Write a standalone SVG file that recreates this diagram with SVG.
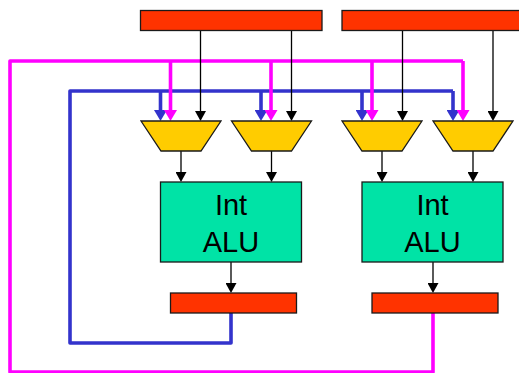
<svg xmlns="http://www.w3.org/2000/svg" width="519" height="373" viewBox="0 0 519 373">
<style>
.reg{fill:#ff3300;stroke:#1a1a1a;stroke-width:1.3}
.mux{fill:#ffcc00;stroke:#1a1a1a;stroke-width:1.3}
.alu{fill:#00e3a6;stroke:#1a1a1a;stroke-width:1.3}
.lbl{font-family:"Liberation Sans",Arial,sans-serif;font-size:29px;fill:#000;text-anchor:middle}
.k{fill:none;stroke:#000;stroke-width:1.3;marker-end:url(#ak)}
.b{fill:none;stroke:#3333cc;stroke-width:3.6;stroke-linejoin:round}
.m{fill:none;stroke:#ff00ff;stroke-width:3.6;stroke-linejoin:round}
.ba{marker-end:url(#ab)}
.ma{marker-end:url(#am)}
</style>
<defs>
<marker id="ak" markerUnits="userSpaceOnUse" markerWidth="10" markerHeight="11" refX="0" refY="5.500" orient="auto" viewBox="0 0 10 11"><path d="M0,0L10,5.500L0,11Z" fill="#000"/></marker>
<marker id="ab" markerUnits="userSpaceOnUse" markerWidth="11" markerHeight="13" refX="0" refY="6.500" orient="auto" viewBox="0 0 11 13"><path d="M0,0L11,6.500L0,13Z" fill="#3333cc"/></marker>
<marker id="am" markerUnits="userSpaceOnUse" markerWidth="11" markerHeight="13" refX="0" refY="6.500" orient="auto" viewBox="0 0 11 13"><path d="M0,0L11,6.500L0,13Z" fill="#ff00ff"/></marker>
</defs>
<g id="connectors">
<path class="m" d="M433,313V372H10V61H463"/>
<path class="b" d="M231,313V343H70V91H453"/>
<path class="b ba" d="M160.500,91V110"/>
<path class="b ba" d="M261,91V110"/>
<path class="b ba" d="M362,91V110"/>
<path class="b ba" d="M453,91V110"/>
<path class="m ma" d="M170.500,61V110"/>
<path class="m ma" d="M271,61V110"/>
<path class="m ma" d="M372,61V110"/>
<path class="m ma" d="M463,61V110"/>
<path class="k" d="M200.500,31V111"/>
<path class="k" d="M291.500,31V111"/>
<path class="k" d="M402.500,31V111"/>
<path class="k" d="M493,31V111"/>
<path class="k" d="M181,151V172"/>
<path class="k" d="M271.500,151V172"/>
<path class="k" d="M382,151V172"/>
<path class="k" d="M473,151V172"/>
<path class="k" d="M231,262V283"/>
<path class="k" d="M433,262V283"/>
</g>
<g id="reg-top-1"><rect class="reg" x="140.500" y="10.500" width="181.500" height="20"/></g>
<g id="reg-top-2"><rect class="reg" x="342" y="10.500" width="178" height="20"/></g>
<g id="mux-1"><path class="mux" d="M141,121H221L201,151H161Z"/></g>
<g id="mux-2"><path class="mux" d="M231.500,121H311.500L291.500,151H251.500Z"/></g>
<g id="mux-3"><path class="mux" d="M342,121H422L402,151H362Z"/></g>
<g id="mux-4"><path class="mux" d="M433,121H513L493,151H453Z"/></g>
<g id="alu-1"><rect class="alu" x="160.500" y="182" width="141" height="80"/><text class="lbl" x="231" y="215">Int</text><text class="lbl" x="231" y="252">ALU</text></g>
<g id="alu-2"><rect class="alu" x="362" y="182" width="141" height="80"/><text class="lbl" x="432.500" y="215">Int</text><text class="lbl" x="432.500" y="252">ALU</text></g>
<g id="reg-bottom-1"><rect class="reg" x="170.500" y="293" width="126" height="20"/></g>
<g id="reg-bottom-2"><rect class="reg" x="372" y="293" width="126" height="20"/></g>
</svg>
